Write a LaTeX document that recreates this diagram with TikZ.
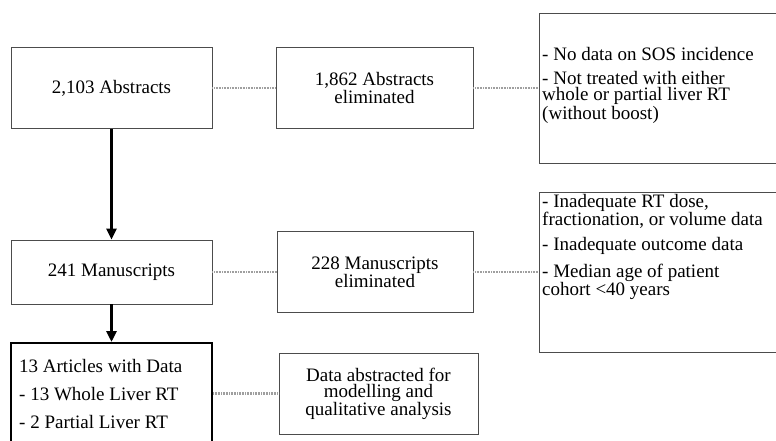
\documentclass[tikz,border=0pt]{standalone}
\usepackage{fontspec}
\setmainfont{Liberation Serif}
\usetikzlibrary{arrows.meta}
\begin{document}
\begin{tikzpicture}[x=1pt,y=-1pt,
  box/.style={draw=black!70, line width=0.8pt, inner sep=2pt, align=center,
    font=\fontsize{19}{16}\selectfont},
  txt/.style={inner sep=0pt, align=left, anchor=north west,
    font=\fontsize{19}{16}\selectfont},
  link/.style={draw=gray!75, line width=2.6pt, dash pattern=on 0.9pt off 0.7pt},
  flow/.style={line width=3pt, -{Triangle[length=11pt,width=10pt]}}]
\useasboundingbox (0,0) rectangle (776,440);
\clip (0,0) rectangle (776,440);
% row 1
\node[box, minimum width=201pt, minimum height=81pt] (a1) at (111.5,88) {2,103 Abstracts};
\node[box, minimum width=197pt, minimum height=81pt] (a2) at (374.5,88) {1,862 Abstracts\\eliminated};
\node[box, minimum width=251pt, minimum height=150pt] (a3) at (664.5,88) {};
\node[txt] (a3t) at (542,47) {- No data on SOS incidence\\[8.5pt]- Not treated with either\\whole or partial liver RT\\(without boost)};
% row 2
\node[box, minimum width=201pt, minimum height=64pt] (m1) at (111.5,272) {241 Manuscripts};
\node[box, minimum width=196pt, minimum height=81pt] (m2) at (375,272) {228 Manuscripts\\eliminated};
\node[box, minimum width=251pt, minimum height=160pt] (m3) at (664.5,272) {};
\node[txt] (m3t) at (542,194) {- Inadequate RT dose,\\fractionation, or volume data\\[8pt]- Inadequate outcome data\\[8pt]- Median age of patient\\cohort <40 years};
% row 3
\node[draw=black, line width=2pt, minimum width=201pt, minimum height=101pt] (d1) at (111.5,393.5) {};
\node[txt] (d1t) at (19,359) {13 Articles with Data\\[12pt]- 13 Whole Liver RT\\[12pt]- 2 Partial Liver RT};
\node[box, minimum width=199pt, minimum height=81pt] (d2) at (378.5,393.5) {Data abstracted for\\modelling and\\qualitative analysis};
% connectors
\draw[link] (a1.east) -- (a2.west);
\draw[link] (a2.east) -- (a3.west);
\draw[link] (m1.east) -- (m2.west);
\draw[link] (m2.east) -- (m3.west);
\draw[link] (d1.east) -- (d2.west);
\draw[flow] (a1.south) -- (m1.north);
\draw[flow] (m1.south) -- (d1.north);
\end{tikzpicture}
\end{document}
